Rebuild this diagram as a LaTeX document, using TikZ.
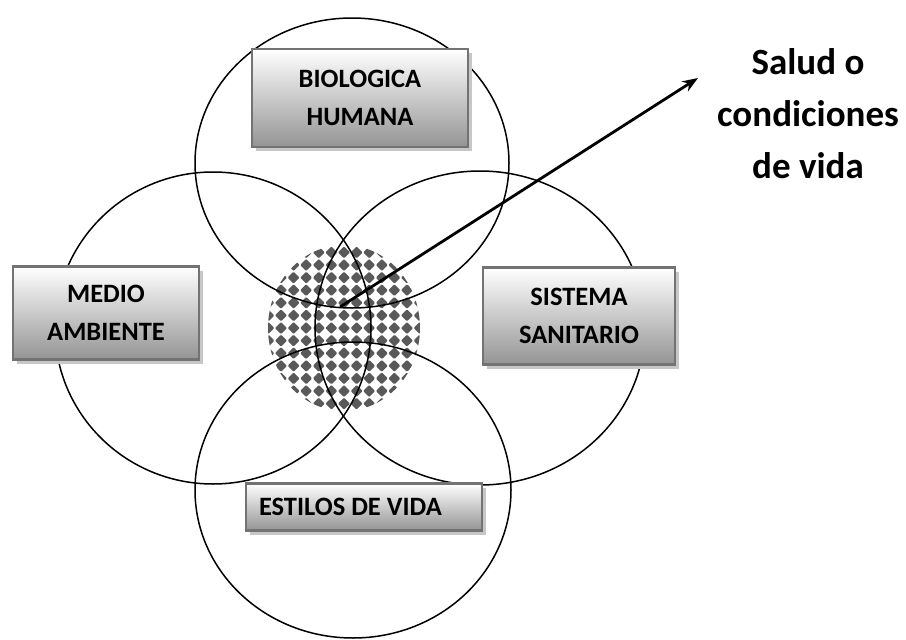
\documentclass[tikz,border=0pt]{standalone}
\usepackage{fontspec}
\setmainfont{Carlito}
\usetikzlibrary{arrows.meta,shadows}

\begin{document}
\begin{tikzpicture}[x=1pt, y=-1pt, >=Stealth,
  circulo/.style={line width=1.5pt, draw=black},
  caja/.style={rectangle, draw=black!55, line width=2.5pt, top color=white,
    bottom color=black!42, align=center, inner sep=0pt,
    font=\fontsize{26.5}{38}\selectfont\bfseries,
    drop shadow={fill=black!22, opacity=1, shadow xshift=4pt, shadow yshift=-4pt}}]
  \useasboundingbox (0,0) rectangle (906,640);
  % centre patterned disc
  \begin{scope}
    \clip (344,328) ellipse (76 and 83);
    \foreach \i in {-7,...,7} {
      \foreach \j in {-7,...,7} {
        \fill[black!65, rounded corners=1pt] (344+12.6*\i,328+12.6*\j-6)
          -- ++(6,6) -- ++(-6,6) -- ++(-6,-6) -- cycle;
      }
    }
  \end{scope}
  % the four circles
  \draw[circulo] (352,163) ellipse (157 and 145);
  \draw[circulo] (213,328) ellipse (158 and 156);
  \draw[circulo] (480,328) ellipse (165 and 157);
  \draw[circulo] (353,490) ellipse (158 and 148);
  % arrow out of the centre
  \coordinate (centro) at (340,307);
  \coordinate (punta) at (698,78);
  \draw[->, line width=2.8pt] (centro) -- (punta);
  \node[align=center, font=\fontsize{37}{52}\selectfont\bfseries] (salud)
    at (808,114) {Salud o\\condiciones\\de vida};
  % boxes
  \node[caja, minimum width=216pt, minimum height=98pt] (bio) at (360,98)
    {BIOLOGICA\\HUMANA};
  \node[caja, minimum width=186pt, minimum height=93pt] (medio) at (106,313)
    {MEDIO\\AMBIENTE};
  \node[caja, minimum width=192pt, minimum height=97pt] (sistema) at (579,316)
    {SISTEMA\\SANITARIO};
  \node[caja, text width=210pt, align=flush left, inner xsep=13pt,
    minimum height=47pt] (estilos) at (364,507) {ESTILOS DE VIDA};
\end{tikzpicture}
\end{document}
